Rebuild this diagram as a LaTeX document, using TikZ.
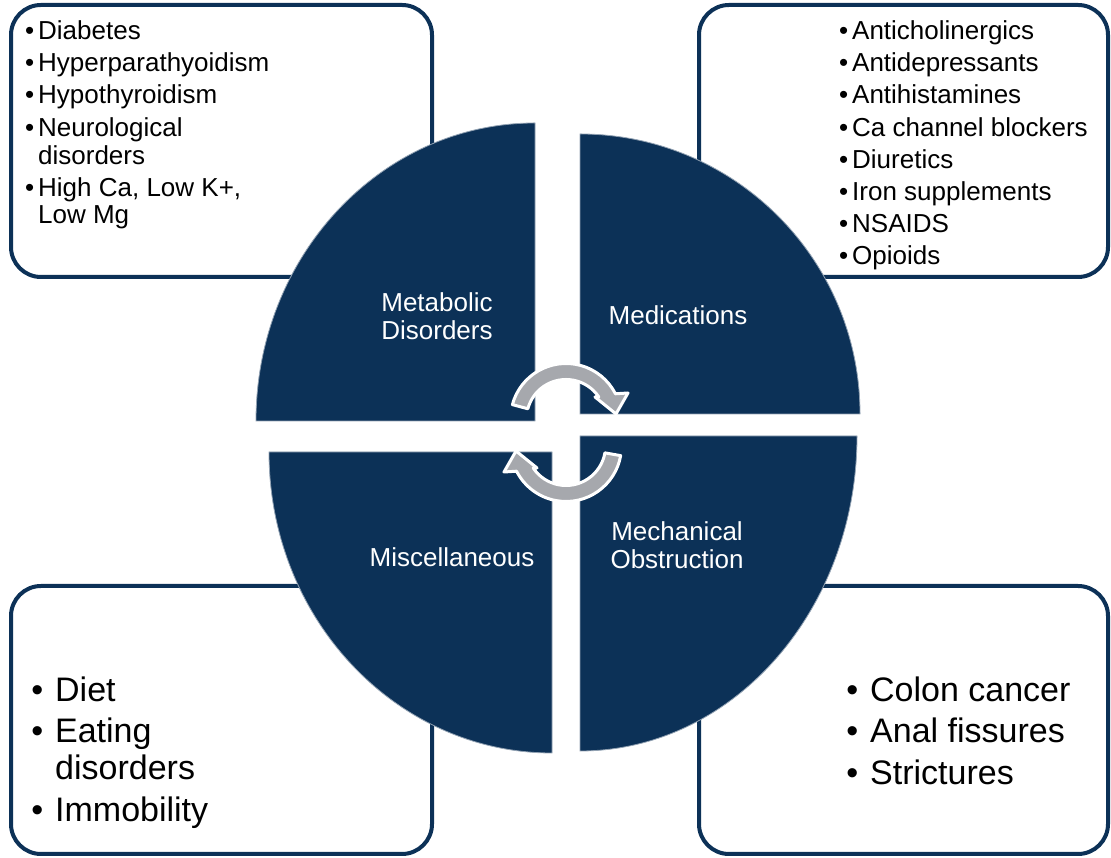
\documentclass[tikz,border=0pt]{standalone}
\usepackage{fontspec}
\setmainfont{Liberation Sans}
\definecolor{navy}{RGB}{12,49,87}
\definecolor{arrowgrey}{RGB}{166,168,173}
\newcommand\itembul[1]{\llap{\textbullet\hspace{#1}}}
\begin{document}
\begin{tikzpicture}[x=1pt,y=1pt,
  infobox/.style={draw=navy, line width=4pt, fill=white, rounded corners=30pt},
  sector/.style={fill=navy, draw=navy!45!white, line width=0.8pt},
  seclabel/.style={text=white, font=\fontsize{26}{28}\selectfont, align=center, inner sep=0},
  smallitem/.style={anchor=base west, inner sep=0, font=\fontsize{26}{28}\selectfont},
  bigitem/.style={anchor=base west, inner sep=0, font=\fontsize{34}{36}\selectfont},
  cyc/.style={fill=arrowgrey, draw=white, line width=3pt, line join=round}]
\useasboundingbox (0,0) rectangle (1111,858);

% corner boxes
\draw[infobox] (11,581) rectangle (432,853);
\draw[infobox] (699,581) rectangle (1108,853);
\draw[infobox] (11,4) rectangle (432,272);
\draw[infobox] (699,4) rectangle (1108,272);

% sectors
\draw[sector] (535,437) -- (256,437) arc[start angle=180, end angle=90, x radius=279, y radius=298] -- cycle;
\draw[sector] (580,444) -- (580,724) arc[start angle=90, end angle=0, radius=280] -- cycle;
\draw[sector] (552,406) -- (269,406) arc[start angle=180, end angle=270, x radius=283, y radius=301] -- cycle;
\draw[sector] (580,422) -- (857,422) arc[start angle=0, end angle=-90, x radius=277, y radius=315] -- cycle;

% sector labels
\node[seclabel] (metab) at (437,542) {Metabolic\\Disorders};
\node[seclabel] (medic) at (678,543) {Medications};
\node[seclabel] (misc) at (452,301) {Miscellaneous};
\node[seclabel] (mech) at (677,313) {Mechanical\\Obstruction};

% cycle arrows
\begin{scope}[shift={(566,439)}]
\draw[cyc] (165:55.5) arc[start angle=165, end angle=27, radius=55.5]
  -- (62,26) -- (50,5) -- (29,22) -- (34:39.5)
  arc[start angle=34, end angle=165, radius=39.5] -- cycle;
\end{scope}
\begin{scope}[shift={(566,412)}]
\draw[cyc] (-10:55.5) arc[start angle=-10, end angle=-153, radius=55.5]
  -- (-62,-26) -- (-50,-5) -- (-29,-22) -- (-146:39.5)
  arc[start angle=-146, end angle=-10, radius=39.5] -- cycle;
\end{scope}

% top-left list
\node[smallitem] (tl1) at (38,818) {\itembul{4pt}Diabetes};
\node[smallitem] (tl2) at (38,786) {\itembul{4pt}Hyperparathyoidism};
\node[smallitem] (tl3) at (38,754) {\itembul{4pt}Hypothyroidism};
\node[smallitem] (tl4) at (38,721) {\itembul{4pt}Neurological};
\node[smallitem] (tl5) at (38,693) {disorders};
\node[smallitem] (tl6) at (38,661) {\itembul{4pt}High Ca, Low K+,};
\node[smallitem] (tl7) at (38,634) {Low Mg};

% top-right list
\node[smallitem] (tr1) at (852,818) {\itembul{4pt}Anticholinergics};
\node[smallitem] (tr2) at (852,786) {\itembul{4pt}Antidepressants};
\node[smallitem] (tr3) at (852,754) {\itembul{4pt}Antihistamines};
\node[smallitem] (tr4) at (852,721) {\itembul{4pt}Ca channel blockers};
\node[smallitem] (tr5) at (852,689) {\itembul{4pt}Diuretics};
\node[smallitem] (tr6) at (852,657) {\itembul{4pt}Iron supplements};
\node[smallitem] (tr7) at (852,625) {\itembul{4pt}NSAIDS};
\node[smallitem] (tr8) at (852,593) {\itembul{4pt}Opioids};

% bottom-left list
\node[bigitem] (bl1) at (55,156) {\itembul{12pt}Diet};
\node[bigitem] (bl2) at (55,115) {\itembul{12pt}Eating};
\node[bigitem] (bl3) at (55,78) {disorders};
\node[bigitem] (bl4) at (55,36) {\itembul{12pt}Immobility};

% bottom-right list
\node[bigitem] (br1) at (870,156) {\itembul{12pt}Colon cancer};
\node[bigitem] (br2) at (870,115) {\itembul{12pt}Anal fissures};
\node[bigitem] (br3) at (870,73) {\itembul{12pt}Strictures};
\end{tikzpicture}
\end{document}
